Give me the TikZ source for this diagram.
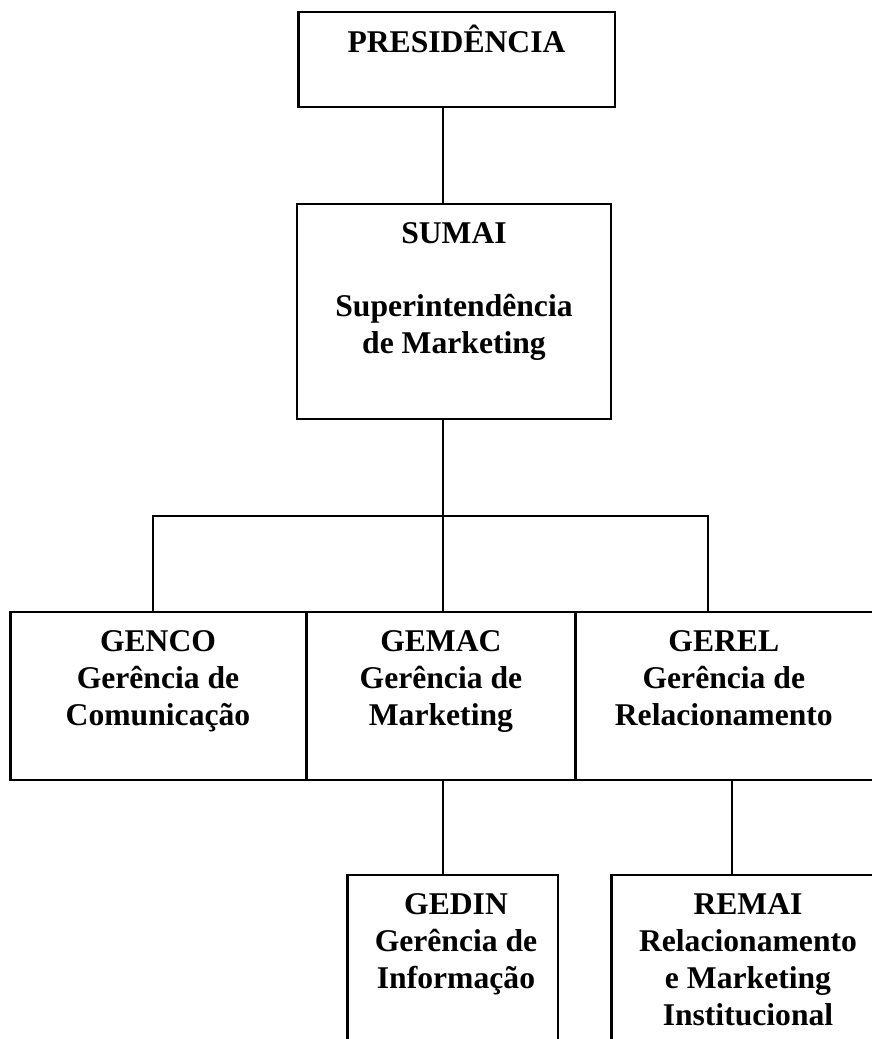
\documentclass[tikz,border=0pt]{standalone}
\usepackage{fontspec}
\setmainfont{Liberation Serif}
\usetikzlibrary{positioning}
\tikzset{
  orgbox/.style={rectangle, draw=black, line width=0.8pt, inner sep=0pt, minimum height=3.36cm},
  orgtxt/.style={align=center, inner sep=0pt, font=\fontsize{18}{21}\selectfont\bfseries,
                 execute at begin node={\rule{0pt}{18pt}}},
  link/.style={draw=black, line width=1.3pt},
  branch/.style={draw=black, line width=0.8pt},
  leftrule/.style={draw=black, line width=0.6pt},
}

\begin{document}
\begin{tikzpicture}
  \useasboundingbox (0,0) rectangle (17.44,-20.78);
  \clip (0,0) rectangle (17.44,-20.78);
  \node[orgbox, minimum width=6.34cm, minimum height=1.90cm] (pres) at (9.13,-1.19) {};
  \node[orgbox, minimum width=6.28cm, minimum height=4.30cm] (sumai) at (9.08,-6.23) {};
  \node[orgbox, minimum width=5.92cm] (genco) at (3.16,-13.92) {};
  \node[orgbox, minimum width=5.34cm, right=0pt of genco] (gemac) {};
  \node[orgbox, minimum width=6.10cm, right=0pt of gemac] (gerel) {};
  \node[orgbox, minimum width=4.22cm, minimum height=3.9cm] (gedin) at (9.05,-19.45) {};
  \node[orgbox, minimum width=5.48cm, minimum height=3.9cm] (remai) at (14.96,-19.45) {};
  \foreach \n in {pres,genco,gedin,remai}
    \draw[leftrule] ([xshift=1.3pt]\n.north west) -- ([xshift=1.3pt]\n.south west);

  \node[orgtxt, below=0.19cm of pres.north] (presT) {PRESIDÊNCIA};
  \node[orgtxt, below=0.37cm of sumai.north] (sumaiT) {SUMAI\\[21pt]Superintendência\\de Marketing};
  \node[orgtxt, below=0.38cm of genco.north] (gencoT) {GENCO\\Gerência de\\Comunicação};
  \node[orgtxt, below=0.38cm of gemac.north] (gemacT) {GEMAC\\Gerência de\\Marketing};
  \node[orgtxt, below=0.38cm of gerel.north, xshift=-0.09cm] (gerelT) {GEREL\\Gerência de\\Relacionamento};
  \node[orgtxt, below=0.38cm of gedin.north, xshift=0.07cm] (gedinT) {GEDIN\\Gerência de\\Informação};
  \node[orgtxt, below=0.38cm of remai.north] (remaiT) {REMAI\\Relacionamento\\e Marketing\\Institucional};

  \coordinate (trunk) at (8.86,0); \coordinate (bar) at (8.86,-10.32);
  \coordinate (lft) at (3.06,0); \coordinate (rgt) at (14.16,0); \coordinate (sub) at (14.64,0);
  \draw[link] (pres.south -| trunk) -- (sumai.north -| trunk);
  \draw[link] (sumai.south -| trunk) -- (gemac.north -| trunk);
  \draw[branch] (genco.north -| lft) |- (bar) -| (gerel.north -| rgt);
  \draw[link] (gemac.south -| trunk) -- (gedin.north -| trunk);
  \draw[link] (gerel.south -| sub) -- (remai.north -| sub);
\end{tikzpicture}
\end{document}
